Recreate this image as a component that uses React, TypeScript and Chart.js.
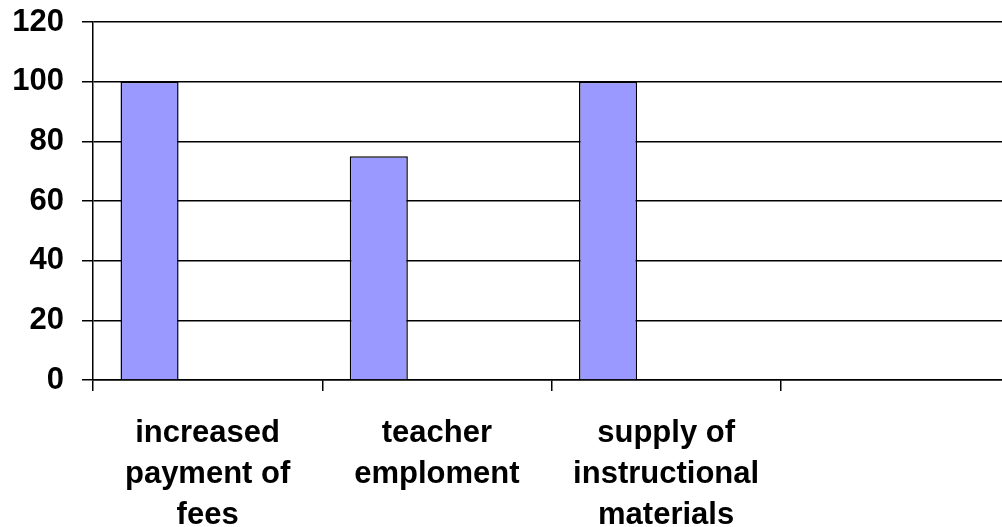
import React, { useEffect, useRef } from "react";
import { Chart, registerables } from "chart.js";

Chart.register(...registerables);

const categories: (string | string[])[] = [
  ["increased", "payment of", "fees"],
  ["teacher", "emploment"],
  ["supply of", "instructional", "materials"],
  "",
];
const seriesA: (number | null)[] = [100, 75, 100, null];
const seriesB: (number | null)[] = [null, null, null, null];
const seriesC: (number | null)[] = [null, null, null, null];
const yTicks = [0, 20, 40, 60, 80, 100, 120];

const FONT = { family: "'Liberation Sans', Arial, sans-serif", size: 31, weight: "bold" as const, lineHeight: 1.32 };

export default function App() {
  const ref = useRef<HTMLCanvasElement | null>(null);
  useEffect(() => {
    if (!ref.current) return;
    const mk = (data: (number | null)[]) => ({
      data,
      backgroundColor: "#9999FF",
      borderColor: "#000000",
      borderWidth: 1.5,
      borderSkipped: "bottom" as const,
      categoryPercentage: 0.76,
      barPercentage: 1,
    });
    const chart = new Chart(ref.current, {
      type: "bar",
      data: {
        labels: categories,
        datasets: [mk(seriesA), mk(seriesB), mk(seriesC)],
      },
      options: {
        animation: false,
        responsive: false,
        maintainAspectRatio: false,
        layout: { padding: { top: 22, left: 0, right: 0, bottom: 0 } },
        plugins: { legend: { display: false }, tooltip: { enabled: false } },
        scales: {
          x: {
            grid: {
              display: true,
              drawOnChartArea: false,
              drawTicks: true,
              tickLength: 11,
              color: "#000000",
              lineWidth: 1.5,
              offset: true,
            },
            border: { display: true, color: "#000000", width: 1.5 },
            ticks: {
              color: "#000000",
              font: FONT,
              padding: 22,
              maxRotation: 0,
              minRotation: 0,
              autoSkip: false,
            },
            afterFit: (scale: any) => {
              scale.height = 147;
              scale.paddingLeft = 0;
              scale.paddingRight = 0;
            },
          },
          y: {
            min: 0,
            max: 120,
            afterBuildTicks: (scale: any) => {
              scale.ticks = yTicks.map((v) => ({ value: v }));
            },
            grid: {
              color: "#000000",
              lineWidth: 1.5,
              tickLength: 11,
              drawTicks: true,
            },
            border: { display: true, color: "#000000", width: 1.5 },
            ticks: {
              color: "#000000",
              font: FONT,
              padding: 18,
            },
            afterFit: (scale: any) => {
              scale.width = 93;
              scale.paddingTop = 0;
              scale.paddingBottom = 0;
            },
          },
        },
      },
    });
    return () => chart.destroy();
  }, []);
  return (
    <div style={{ position: "fixed", left: 0, top: 0, width: 1002, height: 527, overflow: "hidden", background: "#fff" }}>
      <canvas ref={ref} width={1010} height={527} style={{ width: 1010, height: 527, display: "block" }} />
    </div>
  );
}
